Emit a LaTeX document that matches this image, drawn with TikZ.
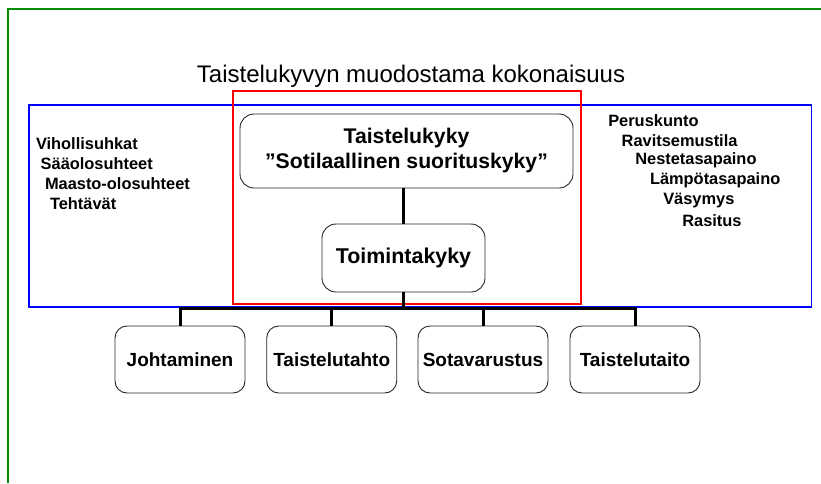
\documentclass[tikz,border=0pt]{standalone}
\usepackage{fontspec}
\setmainfont{Liberation Sans}
\begin{document}
\begin{tikzpicture}[x=1pt,y=-1pt,
  every node/.style={inner sep=0pt,outer sep=0pt},
  rbox/.style={draw=black!85,line width=0.9pt,fill=white,rounded corners=14pt,align=center,font=\bfseries},
  cbox/.style={rbox,minimum width=130pt,minimum height=67pt,rounded corners=12pt,font=\fontsize{19}{22}\selectfont\bfseries},
  listtxt/.style={anchor=west,font=\fontsize{16.4}{20}\selectfont\bfseries},
  conn/.style={line width=3pt,black}]
\useasboundingbox (0,0) rectangle (821,483);
% frame
\draw[color={rgb,255:red,0;green,140;blue,0},line width=1.1pt] (8,483) -- (8,9) -- (821,9);
% title
\node (title) at (411,76) {\fontsize{24}{27}\selectfont Taistelukyvyn muodostama kokonaisuus};
% outer rectangles
\draw[color={rgb,255:red,0;green,0;blue,255},line width=1.2pt] (29,105) rectangle (811.5,307);
\draw[color={rgb,255:red,255;green,0;blue,0},line width=1.2pt] (233,91) rectangle (581,304);
% main boxes
\node[rbox,minimum width=333pt,minimum height=74pt,font=\fontsize{21.2}{25}\selectfont\bfseries] (tk) at (406.5,151) {Taistelukyky\\”Sotilaallinen suorituskyky”};
\node[rbox,minimum width=163pt,minimum height=68pt,font=\fontsize{21.4}{25}\selectfont\bfseries] (toim) at (403.5,258) {Toimintakyky};
% children
\node[cbox] (c1) at (180,359.5) {Johtaminen};
\node[cbox] (c2) at (331.7,359.5) {Taistelutahto};
\node[cbox] (c3) at (483,359.5) {Sotavarustus};
\node[cbox] (c4) at (635,359.5) {Taistelutaito};
\coordinate (bar) at (403.5,308.5);
% connectors
\draw[conn] (tk.south -| toim.north) -- (toim.north);
\draw[conn] (toim.south) -- (bar);
\draw[conn] (c1.north) |- (bar) -| (c4.north);
\draw[conn] (c2.north) -- (c2.north |- bar);
\draw[conn] (c3.north) -- (c3.north |- bar);
% left list
\node[listtxt] (l1) at (36,143.3) {Vihollisuhkat};
\node[listtxt] (l2) at (40.7,163.3) {Sääolosuhteet};
\node[listtxt] (l3) at (45,183.3) {Maasto-olosuhteet};
\node[listtxt] (l4) at (50,203.3) {Tehtävät};
% right list
\node[listtxt] (r1) at (608.3,120.7) {Peruskunto};
\node[listtxt] (r2) at (621.7,140.7) {Ravitsemustila};
\node[listtxt] (r3) at (635.3,160.7) {Nestetasapaino};
\node[listtxt] (r4) at (650,180.7) {Lämpötasapaino};
\node[listtxt] (r5) at (663.3,200.7) {Väsymys};
\node[listtxt] (r6) at (682.3,220.7) {Rasitus};
\end{tikzpicture}
\end{document}
